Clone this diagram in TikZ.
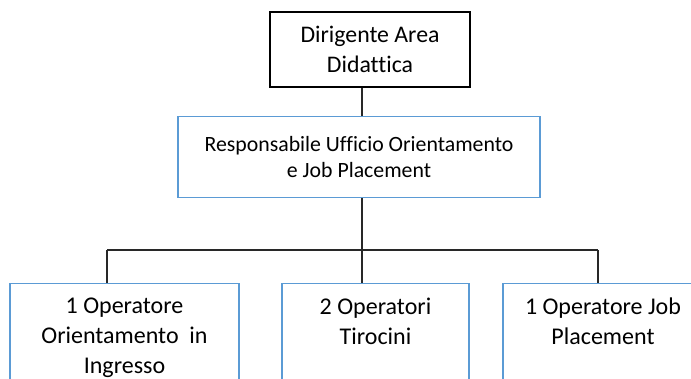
\documentclass[tikz,border=0pt]{standalone}
\usepackage{fontspec}
\setmainfont{Carlito}[Ligatures=NoCommon]
\usepackage{tikz}
\usetikzlibrary{positioning,calc}
\definecolor{boxblue}{RGB}{91,155,213}
\definecolor{linegray}{RGB}{40,40,40}

\begin{document}
\begin{tikzpicture}[x=1pt,y=-1pt,every node/.style={font=\fontsize{22}{30}\selectfont}]
\tikzstyle{headbox}=[draw=black,line width=1.3pt,fill=white,align=center,inner sep=0pt]
\tikzstyle{bluebox}=[draw=boxblue,line width=1.3pt,fill=white,align=center,inner sep=0pt]
\tikzstyle{optext}=[align=center,inner sep=0pt,anchor=north,font=\fontsize{24}{30}\selectfont]
\tikzstyle{link}=[draw=linegray,line width=1.3pt]
\useasboundingbox (0,0) rectangle (691,378);
\clip (0,0) rectangle (691,378);
\node[headbox,minimum width=200pt,minimum height=75pt,font=\fontsize{23.8}{30.5}\selectfont] (dir) at (370,49.5) {Dirigente Area\\Didattica};
\node[bluebox,minimum width=362pt,minimum height=81pt,font=\fontsize{21.8}{25.5}\selectfont] (resp) at (359,157) {Responsabile Ufficio Orientamento\\e Job Placement};
\coordinate (bus) at (362,250);
\coordinate (busl) at (107,250);
\coordinate (busr) at (598,250);
\node[bluebox,anchor=north,minimum width=229pt,minimum height=130pt] (op1) at (124.5,283) {};
\node[bluebox,anchor=north,minimum width=187pt,minimum height=130pt] (op2) at (375.5,283) {};
\node[bluebox,anchor=north,minimum width=200pt,minimum height=130pt] (op3) at (603,283) {};
\node[optext] (t1) at ($(op1.north)+(0,15)$) {1 Operatore\\Orientamento~~in\\Ingresso};
\node[optext] (t2) at ($(op2.north)+(0,15)$) {2 Operatori\\Tirocini};
\node[optext] (t3) at ($(op3.north)+(0,15)$) {1 Operatore Job\\Placement};
% connectors
\draw[link] (dir.south -| bus) -- (resp.north -| bus);
\draw[link] (resp.south -| bus) -- (bus);
\draw[link] (busl) -- (busr);
\foreach \b/\c in {op1/busl,op2/bus,op3/busr}{\draw[link] (\c) -- (\b.north -| \c);}
\end{tikzpicture}
\end{document}
